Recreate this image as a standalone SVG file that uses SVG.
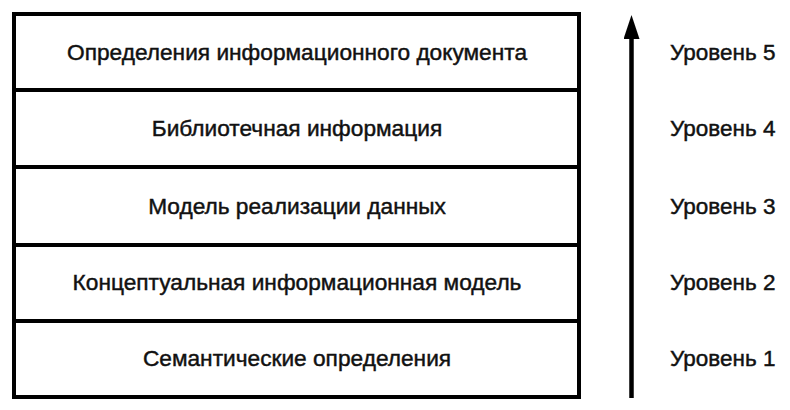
<svg xmlns="http://www.w3.org/2000/svg" width="790" height="410" viewBox="0 0 790 410">
<style>
.box{fill:#fff;stroke:#000;stroke-width:4}
.t{font-family:"Liberation Sans",Arial,sans-serif;font-size:22.7px;fill:#111;stroke:#111;stroke-width:0.45;text-anchor:middle}
.lv{font-family:"Liberation Sans",Arial,sans-serif;font-size:22.5px;fill:#111;stroke:#111;stroke-width:0.45;text-anchor:start}
.ln{stroke:#000;stroke-width:4.5;fill:none}
</style>
<defs>
<marker id="ah" markerWidth="24" markerHeight="16" refX="9" refY="8" orient="auto" markerUnits="userSpaceOnUse" viewBox="0 0 24 16">
<path d="M0,0 L24,8 L0,16 Z" fill="#000"/>
</marker>
</defs>
<rect width="790" height="410" fill="#fff"/>
<g id="level5">
<rect class="box" x="14" y="14" width="565" height="76"/>
<text class="t" x="297" y="60">Определения информационного документа</text>
</g>
<g id="level4">
<rect class="box" x="14" y="90" width="565" height="77"/>
<text class="t" x="297" y="136">Библиотечная информация</text>
</g>
<g id="level3">
<rect class="box" x="14" y="167" width="565" height="78"/>
<text class="t" x="297" y="214">Модель реализации данных</text>
</g>
<g id="level2">
<rect class="box" x="14" y="245" width="565" height="76"/>
<text class="t" x="297" y="290">Концептуальная информационная модель</text>
</g>
<g id="level1">
<rect class="box" x="14" y="321" width="565" height="76"/>
<text class="t" x="297" y="366">Семантические определения</text>
</g>
<g id="connectors">
<line class="ln" x1="631.5" y1="398" x2="631.5" y2="30" marker-end="url(#ah)"/>
</g>
<g id="labels">
<text class="lv" x="670" y="60">Уровень 5</text>
<text class="lv" x="670" y="136">Уровень 4</text>
<text class="lv" x="670" y="214">Уровень 3</text>
<text class="lv" x="670" y="290">Уровень 2</text>
<text class="lv" x="670" y="366">Уровень 1</text>
</g>
</svg>
